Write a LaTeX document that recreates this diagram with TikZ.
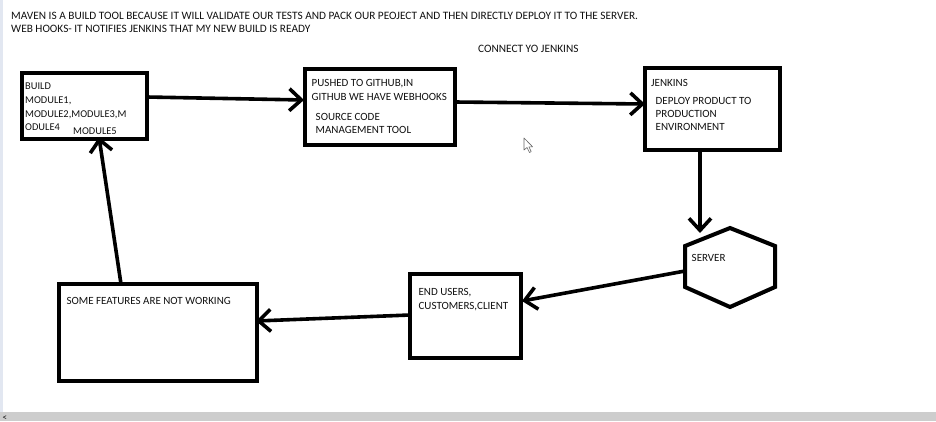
\documentclass[tikz,border=0pt]{standalone}
\usepackage{fontspec}
\setmainfont{Carlito}
\usetikzlibrary{arrows.meta,calc}
\definecolor{scrollgray}{HTML}{CDCDCD}
\definecolor{edgeblue}{HTML}{E2E7F1}
\definecolor{ink}{HTML}{111111}
\begin{document}
\begin{tikzpicture}[x=1pt,y=-1pt,
  font=\fontsize{11}{13}\selectfont,
  box/.style={draw=black, line width=4pt, inner sep=0pt, outer sep=0pt},
  arr/.style={line width=3.6pt, -{Straight Barb[length=12pt,width=22pt]}},
  txt/.style={anchor=base west, inner sep=0pt, text=ink},
  htxt/.style={txt, font=\fontsize{11.3}{13}\selectfont},
  btxt/.style={txt, font=\fontsize{10.4}{12}\selectfont}]
\useasboundingbox (0,0) rectangle (936,421);
\fill[white] (0,0) rectangle (936,421);
\fill[edgeblue] (0,0) rectangle (3,412);
\fill[scrollgray] (0,412) rectangle (936,421);
\node[txt, font=\fontsize{9}{9}\selectfont] (lt) at (2.5,420) {<};

% header texts
\node[htxt] (h1) at (11,19) {MAVEN IS A BUILD TOOL BECAUSE IT WILL VALIDATE OUR TESTS AND PACK OUR PEOJECT AND THEN DIRECTLY DEPLOY IT TO THE SERVER.};
\node[htxt] (h2) at (11,32.5) {WEB HOOKS- IT NOTIFIES JENKINS THAT MY NEW BUILD IS READY};
\node[htxt] (h3) at (478,52.5) {CONNECT YO JENKINS};

% boxes
\node[box, minimum width=125pt, minimum height=66pt] (build) at (84.5,106) {};
\node[box, minimum width=150pt, minimum height=76pt] (gh) at (380,107) {};
\node[box, minimum width=135pt, minimum height=82pt] (jen) at (712.5,109) {};
\node[box, minimum width=111pt, minimum height=84pt] (endu) at (465.5,316) {};
\node[box, minimum width=198pt, minimum height=97pt] (some) at (158,332.5) {};
\node[inner sep=0pt, minimum width=90pt, minimum height=79pt] (srv) at (730,267.5) {};
\draw[line width=4pt, line join=miter] (730,228) -- (775,246) -- (775,287) -- (730,307) -- (685,287) -- (685,246) -- cycle;

% box texts
\node[btxt] (b1) at (25,89) {BUILD};
\node[btxt] (b2) at (25,103.3) {MODULE1,};
\node[btxt] (b3) at (25,117.3) {MODULE2,MODULE3,M};
\node[btxt] (b4) at (25,130.7) {ODULE4};
\node[btxt] (b5) at (73,134) {MODULE5};

\node[txt] (g1) at (311.5,86.7) {PUSHED TO GITHUB,IN};
\node[txt] (g2) at (311.5,100) {GITHUB WE HAVE WEBHOOKS};
\node[txt] (g3) at (315.5,120.7) {SOURCE CODE};
\node[txt] (g4) at (315.5,133.3) {MANAGEMENT TOOL};

\node[txt] (j1) at (651,86) {JENKINS};
\node[txt] (j2) at (655.5,104) {DEPLOY PRODUCT TO};
\node[txt] (j3) at (655.5,117.3) {PRODUCTION};
\node[txt] (j4) at (655.5,130.7) {ENVIRONMENT};

\node[txt] (s1) at (691.5,261) {SERVER};

\node[txt] (e1) at (418.4,295) {END USERS,};
\node[txt] (e2) at (418.4,309) {CUSTOMERS,CLIENT};

\node[txt] (f1) at (66.4,304) {SOME FEATURES ARE NOT WORKING};

% cursor
\draw[line width=0.6pt, draw=gray!80!black, fill=white, line join=round]
  (524,138) -- (524,150) -- (527,147.5) -- (529.5,152.5) -- (531.2,151.6) -- (528.9,146.8) -- (532.6,146.8) -- cycle;

% connectors
\coordinate (t3) at (700,233);
\coordinate (s3) at (685,271);
\draw[arr] ([yshift=9pt]build.east) -- ([yshift=7pt,xshift=-1pt]gh.west);
\draw[arr] ([yshift=5pt]gh.east) -- ([yshift=5pt]jen.west);
\draw[arr] (jen.south -| t3) -- (t3);
\draw[arr] (s3) -- ([yshift=15pt,xshift=1pt]endu.east);
\draw[arr] ([yshift=1pt]endu.west) -- ([yshift=11.5pt,xshift=-1pt]some.east);
\draw[arr] ([xshift=-37pt]some.north) -- ([xshift=14.5pt,yshift=2pt]build.south);
\end{tikzpicture}
\end{document}
